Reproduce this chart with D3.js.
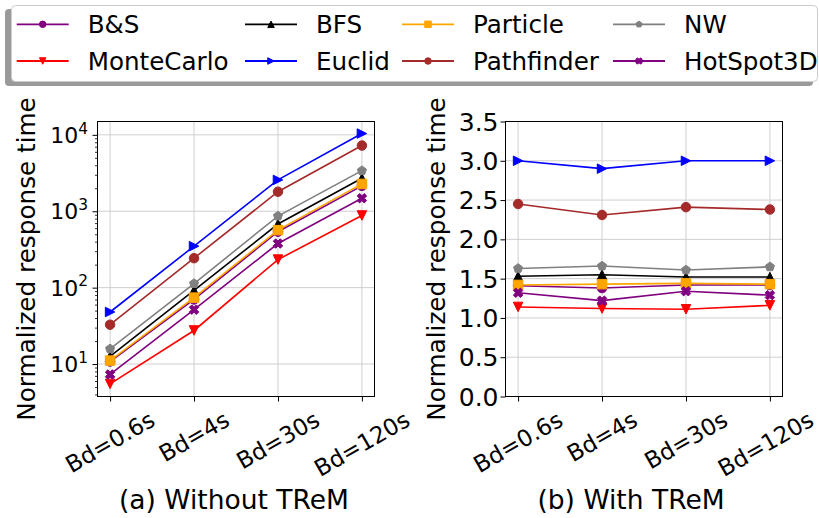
<!DOCTYPE html>
<html><head><meta charset="utf-8">
<script src="https://cdn.jsdelivr.net/npm/d3@7"></script>
<style>body{margin:0;background:#fff} svg{display:block} text{font-family:"DejaVu Sans",sans-serif;fill:#000}</style>
</head><body><svg id="c" width="819" height="518"></svg>
<script>
// ---------------- data ----------------
const categories = ["Bd=0.6s", "Bd=4s", "Bd=30s", "Bd=120s"];
const seriesNames = ["B&S", "MonteCarlo", "BFS", "Euclid", "Particle", "Pathfinder", "NW", "HotSpot3D"];
const seriesColors = ["#800080", "#ff0000", "#000000", "#0000ff", "#ffa500", "#a52a2a", "#808080", "#800080"];
const seriesMarkers = ["circle", "triDown", "triUp", "triRight", "square", "circle", "pentagon", "x"];

// (a) Without TReM (log scale)
const woBS         = [10.8, 70, 540, 2150];
const woMonteCarlo = [5.5, 27.5, 233, 880];
const woBFS        = [12.6, 92, 680, 2700];
const woEuclid     = [48, 349, 2570, 10400];
const woParticle   = [11.1, 74, 566, 2280];
const woPathfinder = [32.7, 243, 1800, 7240];
const woNW         = [15.8, 113, 865, 3400];
const woHotSpot3D  = [7.3, 51.5, 378, 1480];

// (b) With TReM (linear scale)
const wBS         = [1.41, 1.38, 1.42, 1.42];
const wMonteCarlo = [1.14, 1.12, 1.11, 1.16];
const wBFS        = [1.53, 1.55, 1.52, 1.52];
const wEuclid     = [3.00, 2.90, 3.00, 3.00];
const wParticle   = [1.42, 1.43, 1.44, 1.43];
const wPathfinder = [2.45, 2.31, 2.41, 2.38];
const wNW         = [1.63, 1.66, 1.61, 1.65];
const wHotSpot3D  = [1.32, 1.22, 1.34, 1.29];

const logTicks = [10, 100, 1000, 10000];
const logTickExp = ["1", "2", "3", "4"];
const linTicks = [0, 0.5, 1.0, 1.5, 2.0, 2.5, 3.0, 3.5];
const linTickLabels = ["0.0", "0.5", "1.0", "1.5", "2.0", "2.5", "3.0", "3.5"];

const yLabel = "Normalized response time";
const titleA = "(a) Without TReM";
const titleB = "(b) With TReM";

const withoutSeries = [woBS, woMonteCarlo, woBFS, woEuclid, woParticle, woPathfinder, woNW, woHotSpot3D];
const withSeries = [wBS, wMonteCarlo, wBFS, wEuclid, wParticle, wPathfinder, wNW, wHotSpot3D];

// ---------------- drawing ----------------
const svg = d3.select("#c");
const W = 819;
const XTICK_FS = 23, LOGTICK_FS = 22, LINTICK_FS = 25, LABEL_FS = 24.7, LEG_FS = 24.6, TITLE_FS = 26.5;
const MS = 9.5, LEG_MS = 6.5;

function markerPath(type, s) {
  const h = s / 2;
  switch (type) {
    case "circle": return d3.symbol(d3.symbolCircle, Math.PI * h * h)();
    case "square": return `M${-h},${-h}h${s}v${s}h${-s}Z`;
    case "triUp": return `M0,${-h}L${h},${h}L${-h},${h}Z`;
    case "triDown": return `M0,${h}L${h},${-h}L${-h},${-h}Z`;
    case "triRight": return `M${h},0L${-h},${-h}L${-h},${h}Z`;
    case "pentagon": {
      const pts = d3.range(5).map(k => {
        const a = -Math.PI / 2 + k * 2 * Math.PI / 5;
        return [h * Math.cos(a), h * Math.sin(a)];
      });
      return "M" + pts.map(p => p.join(",")).join("L") + "Z";
    }
    case "x": {
      const a = h * 1.05, b = s / 5.5;
      const base = [[b,-a],[b,-b],[a,-b],[a,b],[b,b],[b,a],[-b,a],[-b,b],[-a,b],[-a,-b],[-b,-b],[-b,-a]];
      const c = Math.SQRT1_2;
      const pts = base.map(([x, y]) => [(x - y) * c, (x + y) * c]);
      return "M" + pts.map(p => p.join(",")).join("L") + "Z";
    }
  }
}

function drawPanel(opt) {
  const { x0, x1, y0, y1, yScale, series, yTicks, yTickFmt, yTickFs, yTickGap, minorTicks, ylabelX, title, titleX } = opt;
  const g = svg.append("g");
  const xs = d3.scaleLinear().domain([-0.15, 3.15]).range([x0, x1]);
  const xPos = c => xs(categories.indexOf(c));

  // grid
  const grid = g.append("g").attr("stroke", "#cfcfcf").attr("stroke-width", 1);
  yTicks.forEach(t => {
    const yy = yScale(t);
    grid.append("line").attr("x1", x0).attr("x2", x1).attr("y1", yy).attr("y2", yy);
  });
  categories.forEach(c => {
    grid.append("line").attr("x1", xPos(c)).attr("x2", xPos(c)).attr("y1", y0).attr("y2", y1);
  });

  // axes via d3 axis
  const yAxis = d3.axisLeft(yScale).tickValues(yTicks).tickSize(5).tickFormat("");
  const ya = g.append("g").attr("transform", `translate(${x0},0)`).call(yAxis);
  ya.select(".domain").remove();
  ya.selectAll("line").attr("stroke", "#000");
  if (minorTicks) {
    const ym = d3.axisLeft(yScale).tickValues(minorTicks).tickSize(2.5).tickFormat("");
    const ma = g.append("g").attr("transform", `translate(${x0},0)`).call(ym);
    ma.select(".domain").remove();
    ma.selectAll("line").attr("stroke", "#000").attr("stroke-width", 0.8);
  }
  const xAxis = d3.axisBottom(xs).tickValues(d3.range(categories.length)).tickSize(5).tickFormat("");
  const xa = g.append("g").attr("transform", `translate(0,${y1})`).call(xAxis);
  xa.select(".domain").remove();
  xa.selectAll("line").attr("stroke", "#000");

  // y tick labels
  yTicks.forEach((t, i) => {
    const txt = g.append("text").attr("x", x0 - yTickGap).attr("y", yScale(t) + yTickFs * 0.36)
      .attr("text-anchor", "end").style("font-size", yTickFs + "px");
    yTickFmt(txt, i);
  });

  // x tick labels (rotated 30 deg, centered); keep inside the page
  const top = y1 + 11;
  categories.forEach(c => {
    const t = g.append("text").text(c).style("font-size", XTICK_FS + "px")
      .attr("text-anchor", "middle").attr("dominant-baseline", "central");
    const L = t.node().getComputedTextLength();
    const hgt = XTICK_FS * 1.0;
    const bh = L * 0.5 + hgt * 0.866;
    let cx = xPos(c);
    t.attr("transform", `translate(${cx},${top + bh / 2}) rotate(-30)`);
    const r = t.node().getBoundingClientRect();
    if (r.right > W - 1) {
      cx -= (r.right - (W - 1));
      t.attr("transform", `translate(${cx},${top + bh / 2}) rotate(-30)`);
    }
  });

  // series
  const line = d3.line().x((d, i) => xs(i)).y(d => yScale(d));
  series.forEach((vals, si) => {
    const col = seriesColors[si];
    g.append("path").attr("d", line(vals)).attr("fill", "none").attr("stroke", col).attr("stroke-width", 1.6);
    vals.forEach((v, i) => {
      g.append("path").attr("d", markerPath(seriesMarkers[si], MS))
        .attr("transform", `translate(${xs(i)},${yScale(v)})`)
        .attr("fill", col).attr("stroke", col).attr("stroke-width", 1);
    });
  });

  // frame
  g.append("rect").attr("x", x0).attr("y", y0).attr("width", x1 - x0).attr("height", y1 - y0)
    .attr("fill", "none").attr("stroke", "#000").attr("stroke-width", 1);

  // y label
  g.append("text").text(yLabel).style("font-size", LABEL_FS + "px").attr("text-anchor", "middle")
    .attr("transform", `translate(${ylabelX},${(y0 + y1) / 2}) rotate(-90)`);

  // title
  g.append("text").text(title).style("font-size", TITLE_FS + "px").attr("text-anchor", "middle")
    .attr("x", titleX).attr("y", 509);
}

// Panel (a)
const ya0 = 121.5, ya1 = 396.5;
const yLog = d3.scaleLog().domain([3.76, 14950]).range([ya1, ya0]);
const minorLog = [];
[1, 10, 100, 1000, 10000].forEach(dec => {
  for (let m = 2; m <= 9; m++) { const v = m * dec; if (v >= 3.76 && v <= 14950) minorLog.push(v); }
});
drawPanel({
  x0: 97.5, x1: 374.5, y0: ya0, y1: ya1, yScale: yLog, series: withoutSeries,
  yTicks: logTicks, minorTicks: minorLog, yTickFs: LOGTICK_FS, yTickGap: 9.5,
  yTickFmt: (txt, i) => {
    txt.append("tspan").text("10");
    txt.append("tspan").text(logTickExp[i]).style("font-size", (LOGTICK_FS * 0.7) + "px").attr("dy", -LOGTICK_FS * 0.42);
  },
  ylabelX: 35, title: titleA, titleX: 234
});

// Panel (b)
const yLin = d3.scaleLinear().domain([0, 3.5]).range([ya1, ya0]);
drawPanel({
  x0: 505.5, x1: 782.5, y0: ya0, y1: ya1, yScale: yLin, series: withSeries,
  yTicks: linTicks, minorTicks: null, yTickFs: LINTICK_FS, yTickGap: 7,
  yTickFmt: (txt, i) => txt.text(linTickLabels[i]),
  ylabelX: 445, title: titleB, titleX: 631
});

// Legend
const leg = svg.append("g");
leg.append("rect").attr("x", 5).attr("y", 9).attr("width", 808).attr("height", 77).attr("rx", 4)
  .attr("fill", "#9a9a9a");
leg.append("rect").attr("x", 11.5).attr("y", 5.5).attr("width", 806).attr("height", 76).attr("rx", 4)
  .attr("fill", "#fff").attr("stroke", "#cccccc").attr("stroke-width", 1);
const colLineX = [16.7, 245, 402, 613];
const colTextX = [87.7, 316, 473, 684];
const rowY = [24.3, 61];
seriesNames.forEach((name, si) => {
  const c = Math.floor(si / 2), r = si % 2;
  const lx = colLineX[c], ly = rowY[r];
  leg.append("line").attr("x1", lx).attr("x2", lx + 52).attr("y1", ly).attr("y2", ly)
    .attr("stroke", seriesColors[si]).attr("stroke-width", 1.8);
  leg.append("path").attr("d", markerPath(seriesMarkers[si], LEG_MS))
    .attr("transform", `translate(${lx + 26},${ly})`)
    .attr("fill", seriesColors[si]).attr("stroke", seriesColors[si]).attr("stroke-width", 1);
  leg.append("text").text(name).attr("x", colTextX[c]).attr("y", ly + LEG_FS * 0.36)
    .style("font-size", LEG_FS + "px");
});
</script></body></html>
